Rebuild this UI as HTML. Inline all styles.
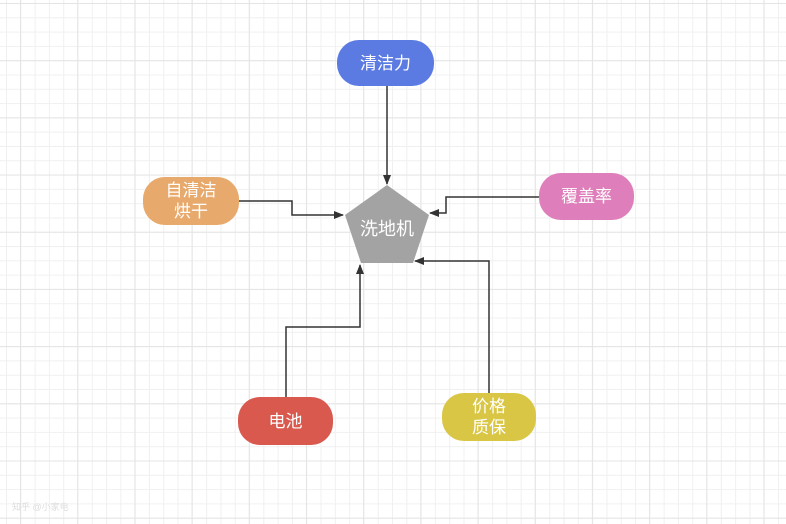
<!DOCTYPE html>
<html><head><meta charset="utf-8"><style>
html,body{margin:0;padding:0;}
body{width:786px;height:524px;overflow:hidden;background:#fff;position:relative;font-family:"Liberation Sans","Noto Sans CJK SC",sans-serif;
background-image:linear-gradient(#e4e4e4 1px,transparent 1px),linear-gradient(90deg,#e4e4e4 1px,transparent 1px),linear-gradient(#f0f0f0 1px,transparent 1px),linear-gradient(90deg,#f0f0f0 1px,transparent 1px);
background-size:57.2px 57.2px,57.2px 57.2px,14.3px 14.3px,14.3px 14.3px;background-position:0 3px,20px 0,0 3px,6px 0;}
.n{position:absolute;color:#fff;font-size:17px;display:flex;align-items:center;justify-content:center;text-align:center;line-height:21px;border-radius:22px;}
svg{position:absolute;left:0;top:0;}
</style></head><body>
<svg width="786" height="524">
<defs><marker id="a" markerWidth="10" markerHeight="8" refX="9" refY="4" orient="auto" markerUnits="userSpaceOnUse"><path d="M0,0L10,4L0,8z" fill="#333"/></marker></defs>
<polygon points="387,185 429,215 413,263 361,263 345,215" fill="#a3a3a3"/>
<text x="387" y="235" fill="#fff" font-size="18" text-anchor="middle" font-family="Liberation Sans,Noto Sans CJK SC,sans-serif">洗地机</text>
<g stroke="#333" stroke-width="1.5" fill="none" marker-end="url(#a)">
<path d="M387,86V184"/>
<path d="M239,201H292V215H343"/>
<path d="M539,197H446V213H430"/>
<path d="M286,397V327H360V265"/>
<path d="M489,393V261H415"/>
</g>
</svg>
<div class="n" style="left:337px;top:40px;width:97px;height:46px;background:#5b7be2">清洁力</div>
<div class="n" style="left:143px;top:177px;width:96px;height:48px;background:#e8a96c">自清洁<br>烘干</div>
<div class="n" style="left:539px;top:173px;width:95px;height:47px;background:#de7eba">覆盖率</div>
<div class="n" style="left:238px;top:397px;width:95px;height:48px;background:#d9594f">电池</div>
<div class="n" style="left:442px;top:393px;width:94px;height:48px;background:#dac645">价格<br>质保</div>
<div style="position:absolute;left:12px;top:500px;font-size:9px;color:#ddd">知乎 @小家电</div>
</body></html>
